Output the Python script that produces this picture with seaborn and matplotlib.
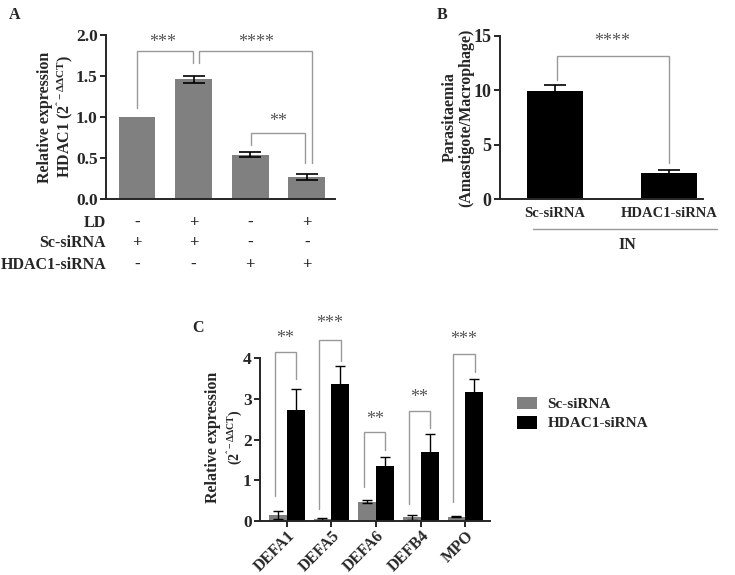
import numpy as np
import pandas as pd
import matplotlib
matplotlib.use("Agg")
import matplotlib.pyplot as plt
import matplotlib.transforms as mtrans
import seaborn as sns

sns.set_style("ticks")
plt.rcParams['font.family'] = ['Liberation Serif', 'DejaVu Serif']
plt.rcParams['font.weight'] = 'bold'
plt.rcParams['axes.labelweight'] = 'bold'
plt.rcParams['mathtext.fontset'] = 'custom'
plt.rcParams['mathtext.rm'] = 'Liberation Serif'
plt.rcParams['mathtext.it'] = 'Liberation Serif:italic'
plt.rcParams['mathtext.bf'] = 'Liberation Serif:bold'

# ---------------- data ----------------
# Panel A
a_groups = ["Sc-siRNA", "Sc-siRNA+LD", "HDAC1-siRNA", "HDAC1-siRNA+LD"]
a_values = [1.0, 1.46, 0.54, 0.27]
a_errors = [0.0, 0.04, 0.03, 0.04]
a_row_labels = ["LD", "Sc-siRNA", "HDAC1-siRNA"]
a_ld = ["-", "+", "-", "+"]
a_sc = ["+", "+", "-", "-"]
a_hdac = ["-", "-", "+", "+"]
# brackets: (x1, x2, top, left_bottom, right_bottom, star_x, star_y, text)
a_brackets = [(0.0, 0.99, 1.81, 1.11, 1.66, 0.46, 1.91, "***"),
              (1.1, 3.1, 1.81, 1.66, 0.44, 2.1, 1.91, "****"),
              (2.02, 2.97, 0.80, 0.66, 0.44, 2.5, 0.94, "**")]

# Panel B
b_groups = ["Sc-siRNA", "HDAC1-siRNA"]
b_values = [9.9, 2.4]
b_errors = [0.55, 0.27]
b_brackets = [(0.02, 1.0, 13.15, 10.95, 3.3, 0.5, 14.5, "****")]

# Panel C
c_genes = ["DEFA1", "DEFA5", "DEFA6", "DEFB4", "MPO"]
c_series = ["Sc-siRNA", "HDAC1-siRNA"]
c_sc_values = [0.14, 0.05, 0.47, 0.08, 0.10]
c_sc_errors = [0.10, 0.02, 0.03, 0.05, 0.02]
c_hd_values = [2.72, 3.37, 1.36, 1.70, 3.17]
c_hd_errors = [0.53, 0.44, 0.22, 0.43, 0.31]
c_bracket_top = [4.16, 4.45, 2.18, 2.70, 4.10]
c_bracket_left = [0.62, 0.30, 0.84, 0.41, 0.45]
c_bracket_right = [3.50, 3.93, 1.75, 2.29, 3.67]
c_star_y = [4.50, 4.85, 2.49, 3.04, 4.47]
c_stars = ["**", "***", "**", "**", "***"]

GREY = "#808080"
BLACK = "#000000"
BRACKET = "#999999"
STAR = "#555555"

fig = plt.figure(figsize=(7.35, 5.75), dpi=100)
axA = fig.add_axes([0.1442, 0.6539, 0.3116, 0.2852])
axB = fig.add_axes([0.6803, 0.6539, 0.2762, 0.2835])
axC = fig.add_axes([0.3537, 0.0944, 0.3129, 0.2824])


def style(ax, ysize):
    sns.despine(ax=ax)
    for s in ("left", "bottom"):
        ax.spines[s].set_linewidth(1.4)
    ax.tick_params(axis="y", width=1.4, length=4, labelsize=ysize, pad=2)
    for lab in ax.get_yticklabels():
        lab.set_fontweight("bold")


def brackets(ax, items, fs=13):
    for x1, x2, top, lb, rb, sx, sy, t in items:
        ax.plot([x1, x1, x2, x2], [lb, top, top, rb], color=BRACKET, lw=1.0,
                clip_on=False, solid_joinstyle="miter")
        ax.text(sx, sy, t, ha="center", va="center", fontsize=fs,
                color=STAR, fontweight="normal", clip_on=False)


# ---------------- Panel A ----------------
dfA = pd.DataFrame({"group": a_groups, "value": a_values})
sns.barplot(data=dfA, x="group", y="value", order=a_groups, color=GREY,
            saturation=1, width=0.65, errorbar=None, linewidth=0, ax=axA)
xa = np.arange(len(a_groups))
ea = np.array(a_errors)
mask = ea > 0
axA.errorbar(xa[mask], np.array(a_values)[mask], yerr=ea[mask], fmt="none",
             ecolor="black", elinewidth=1.2, capsize=8, capthick=1.2)
axA.set_xlim(-0.55, 3.5)
axA.set_ylim(0, 2.0)
axA.set_yticks([0, 0.5, 1.0, 1.5, 2.0])
axA.set_yticklabels(["0.0", "0.5", "1.0", "1.5", "2.0"])
axA.set_xticks(xa)
axA.set_xticklabels([])
axA.tick_params(axis="x", length=0)
axA.set_xlabel("")
axA.set_ylabel("Relative expression\nHDAC1 (2$^{\\mathrm{ˆ-ΔΔCT}}$)", fontsize=11.5,
               linespacing=1.1)
axA.yaxis.set_label_coords(-0.13, 0.5)
style(axA, 12.5)
brackets(axA, a_brackets)
transA = mtrans.blended_transform_factory(axA.transData, axA.transAxes)
rows_y = [-0.146, -0.268, -0.402]
for lab, yy, row in zip(a_row_labels, rows_y, [a_ld, a_sc, a_hdac]):
    axA.text(0.0, yy, lab, transform=axA.transAxes, ha="right", va="center",
             fontsize=11.5, fontweight="bold")
    for i, s in enumerate(row):
        axA.text(xa[i], yy, s, transform=transA, ha="center", va="center",
                 fontsize=12, fontweight="bold")

# ---------------- Panel B ----------------
dfB = pd.DataFrame({"group": b_groups, "value": b_values})
sns.barplot(data=dfB, x="group", y="value", order=b_groups, color=BLACK,
            saturation=1, width=0.49, errorbar=None, linewidth=0, ax=axB)
xb = np.arange(len(b_groups))
axB.errorbar(xb, b_values, yerr=b_errors, fmt="none", ecolor="black",
             elinewidth=1.2, capsize=8, capthick=1.2)
axB.set_xlim(-0.48, 1.3)
axB.set_ylim(0, 15)
axB.set_yticks([0, 5, 10, 15])
axB.tick_params(axis="x", length=0, labelsize=10.5, pad=6)
for lab in axB.get_xticklabels():
    lab.set_fontweight("bold")
axB.set_xlabel("")
axB.set_ylabel("Parasitaemia\n(Amastigote/Macrophage)", fontsize=11.5,
               linespacing=1.1)
axB.yaxis.set_label_coords(-0.125, 0.5)
style(axB, 13)
brackets(axB, b_brackets)
axB.plot([0.163, 1.069], [-0.184, -0.184], transform=axB.transAxes,
         color=BRACKET, lw=1.0, clip_on=False)
axB.text(0.626, -0.282, "IN", transform=axB.transAxes, ha="center",
         va="center", fontsize=11.5, fontweight="bold")

# ---------------- Panel C ----------------
dfC = pd.DataFrame({
    "gene": c_genes * 2,
    "treatment": [c_series[0]] * len(c_genes) + [c_series[1]] * len(c_genes),
    "value": c_sc_values + c_hd_values,
})
sns.barplot(data=dfC, x="gene", y="value", hue="treatment", order=c_genes,
            hue_order=c_series, palette=[GREY, BLACK], saturation=1,
            width=0.8, errorbar=None, linewidth=0, ax=axC)
xc = np.arange(len(c_genes))
axC.errorbar(xc - 0.2, c_sc_values, yerr=c_sc_errors, fmt="none",
             ecolor="black", elinewidth=1.0, capsize=3.5, capthick=1.0)
axC.errorbar(xc + 0.2, c_hd_values, yerr=c_hd_errors, fmt="none",
             ecolor="black", elinewidth=1.0, capsize=3.5, capthick=1.0)
axC.set_xlim(-0.6, 4.55)
axC.set_ylim(0, 4)
axC.set_yticks([0, 1, 2, 3, 4])
axC.set_xlabel("")
axC.set_ylabel("")
style(axC, 12.5)
axC.tick_params(axis="x", width=1.4, length=4, labelsize=11.5, pad=1)
for lab in axC.get_xticklabels():
    lab.set_rotation(45)
    lab.set_ha("right")
    lab.set_rotation_mode("anchor")
    lab.set_fontweight("bold")
c_items = [(i - 0.27, i + 0.21, t, l, r, i - 0.03, sy, s)
           for i, t, l, r, sy, s in zip(xc, c_bracket_top, c_bracket_left,
                                         c_bracket_right, c_star_y, c_stars)]
brackets(axC, c_items)
axC.text(-0.205, 0.515, "Relative expression", transform=axC.transAxes,
         rotation=90, ha="center", va="center", fontsize=11.5,
         fontweight="bold")
axC.text(-0.11, 0.515, "(2$^{\\mathrm{ˆ-ΔΔCT}}$)", transform=axC.transAxes,
         rotation=90, ha="center", va="center", fontsize=10,
         fontweight="bold")
leg = axC.legend(loc="center left", bbox_to_anchor=(1.06, 0.66), frameon=False,
                 handlelength=1.25, handleheight=0.9, handletextpad=0.7,
                 labelspacing=0.3, prop={"size": 11, "weight": "bold"})

# panel letters
fig.text(0.012, 0.988, "A", fontsize=11.5, fontweight="bold", va="top")
fig.text(0.594, 0.988, "B", fontsize=11.5, fontweight="bold", va="top")
fig.text(0.262, 0.443, "C", fontsize=11.5, fontweight="bold", va="top")

fig.savefig("out.png", dpi=100)
